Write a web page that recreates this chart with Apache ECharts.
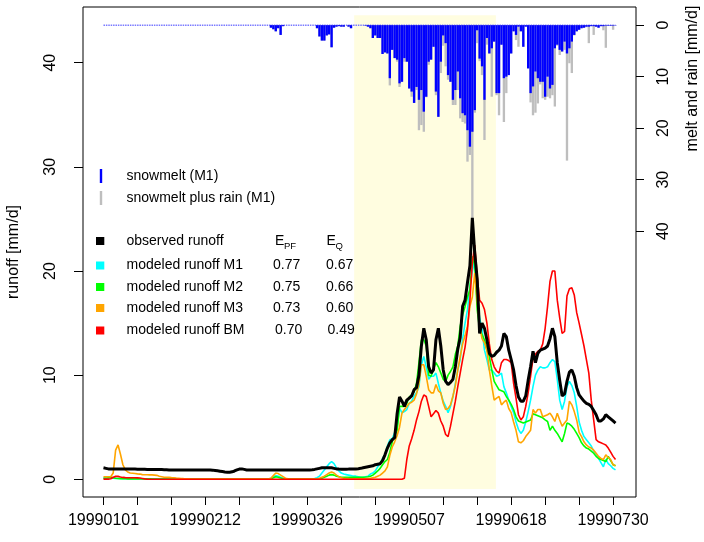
<!DOCTYPE html>
<html><head><meta charset="utf-8">
<script src="https://cdn.jsdelivr.net/npm/echarts@6/dist/echarts.min.js"></script>
<style>html,body{margin:0;padding:0;background:#fff;}#c{width:704px;height:542px;}</style>
</head><body><div id="c"></div>
<script>
// ---- axis / tick data ----
const tickLabels = ["19990101","19990212","19990326","19990507","19990618","19990730"];
const labelDays = [0,42,84,126,168,210];
const tickDays = [0,14,28,42,56,70,84,98,112,126,140,154,168,182,196,210];
const runoffTicks = [0,10,20,30,40];
const meltTicks = [0,10,20,30,40];
const shadeDays = [103.3, 161.7];
const shadeRunoff = [-0.93, 44.55];

// ---- series (one value per day, 19990101 .. 19990731) ----
const observed = [
1.1,1.05,1.0,1.0,1.0,1.0,1.0,1.0,1.0,1.0,
1.0,1.0,0.98,0.98,0.97,0.97,0.96,0.96,0.95,0.95,
0.95,0.94,0.94,0.93,0.93,0.92,0.92,0.9,0.9,0.9,
0.9,0.9,0.9,0.9,0.9,0.9,0.9,0.9,0.9,0.9,
0.9,0.9,0.9,0.9,0.9,0.88,0.85,0.82,0.78,0.74,
0.7,0.68,0.68,0.72,0.8,0.9,0.98,1.0,0.95,0.9,
0.9,0.9,0.9,0.9,0.9,0.9,0.9,0.9,0.9,0.9,
0.9,0.9,0.9,0.9,0.9,0.9,0.9,0.9,0.9,0.9,
0.9,0.9,0.9,0.9,0.9,0.9,0.92,0.95,1.0,1.05,
1.1,1.1,1.12,1.12,1.1,1.05,1.0,0.98,0.97,0.97,
0.97,0.98,1.0,1.0,1.0,1.02,1.05,1.1,1.15,1.2,
1.25,1.3,1.4,1.45,1.5,1.8,2.35,3.0,3.5,3.8,
4.0,6.3,7.9,7.5,7.0,7.6,7.8,8.0,8.6,8.8,
10.0,12.8,14.5,13.4,10.8,10.2,10.5,13.4,14.5,12.8,
10.5,9.4,9.1,9.3,9.6,10.8,12.5,13.6,16.6,17.2,
18.9,20.5,25.1,21.7,19.2,14.0,15.0,14.5,13.4,12.1,
11.8,11.9,12.2,12.4,12.8,14.0,13.7,12.4,11.5,10.5,
9.0,7.9,7.5,7.5,8.0,9.5,10.8,12.3,11.2,12.1,
12.4,12.5,12.6,12.8,13.5,14.5,13.7,11.2,9.5,8.0,
8.2,9.4,10.3,10.5,9.9,8.8,8.1,7.8,7.5,7.3,
7.2,7.0,6.6,6.2,5.6,5.6,5.8,6.2,6.0,5.8,
5.6,5.4];
const modelM1 = [
0.15,0.12,0.1,0.1,0.1,0.08,0.08,0.07,0.06,0.05,
0.05,0.05,0.05,0.05,0.05,0.05,0.05,0.05,0.05,0.05,
0.03,0.03,0.03,0.03,0.03,0.03,0.03,0.03,0.03,0.03,
0.02,0.02,0.02,0.02,0.02,0.02,0.02,0.02,0.02,0.02,
0.02,0.02,0.02,0.02,0.02,0.02,0.02,0.02,0.02,0.02,
0.02,0.02,0.02,0.02,0.02,0.02,0.02,0.02,0.02,0.02,
0.02,0.02,0.02,0.02,0.02,0.02,0.02,0.02,0.02,0.1,
0.25,0.35,0.3,0.2,0.1,0.05,0.03,0.03,0.03,0.03,
0.03,0.03,0.03,0.03,0.03,0.03,0.05,0.08,0.15,0.3,
0.6,0.9,1.2,1.5,1.7,1.5,1.1,0.8,0.6,0.5,
0.45,0.4,0.35,0.3,0.3,0.25,0.2,0.2,0.25,0.3,
0.5,0.6,0.8,1.2,1.5,2.0,2.4,3.2,3.8,3.9,
4.5,5.1,6.8,6.4,6.5,6.7,7.3,7.5,8.0,8.3,
8.9,11.0,11.8,10.8,9.6,9.9,9.9,10.2,9.2,8.3,
7.5,7.0,6.4,7.0,7.9,9.2,10.5,11.5,13.5,15.0,
16.3,18.5,20.0,21.0,17.3,15.5,14.4,12.4,11.5,10.5,
10.5,10.2,9.9,10.0,10.2,8.9,8.3,7.6,7.0,6.4,
5.5,4.8,4.4,4.7,5.5,6.5,7.6,8.9,10.0,10.5,
10.8,10.7,10.7,10.8,11.2,11.5,11.3,9.6,7.6,6.7,
7.5,8.9,9.4,9.0,8.3,7.0,5.5,4.7,4.1,3.8,
3.5,3.2,2.7,2.4,2.0,1.6,1.2,1.9,1.5,1.3,
1.05,0.9];
const modelM2 = [
0.1,0.1,0.15,0.2,0.15,0.1,0.08,0.06,0.05,0.05,
0.04,0.04,0.04,0.04,0.04,0.04,0.04,0.04,0.04,0.04,
0.02,0.02,0.02,0.02,0.02,0.02,0.02,0.02,0.02,0.02,
0.02,0.02,0.02,0.02,0.02,0.02,0.02,0.02,0.02,0.02,
0.02,0.02,0.02,0.02,0.02,0.02,0.02,0.02,0.02,0.02,
0.02,0.02,0.02,0.02,0.02,0.02,0.02,0.02,0.02,0.02,
0.02,0.02,0.02,0.02,0.02,0.02,0.02,0.02,0.02,0.05,
0.15,0.25,0.2,0.12,0.06,0.03,0.02,0.02,0.02,0.02,
0.02,0.02,0.02,0.02,0.02,0.02,0.02,0.02,0.02,0.02,
0.1,0.2,0.3,0.4,0.45,0.4,0.3,0.25,0.2,0.2,
0.2,0.2,0.2,0.2,0.2,0.2,0.2,0.2,0.22,0.25,
0.3,0.4,0.6,0.8,1.05,1.4,1.7,1.9,2.6,3.6,
4.2,4.7,7.0,7.0,7.0,7.3,7.9,8.1,8.4,9.2,
11.2,13.4,13.4,12.8,10.0,9.9,10.6,11.2,10.8,10.2,
9.6,9.4,10.0,10.35,10.8,12.0,12.8,14.7,15.8,16.6,
17.5,18.2,21.4,20.5,16.3,14.4,13.9,13.4,12.4,11.8,
10.5,9.4,9.0,8.6,8.5,8.4,7.95,7.6,7.2,6.7,
6.0,5.6,5.5,5.4,5.5,5.6,5.7,6.3,6.2,6.1,
6.0,5.9,5.7,5.55,4.7,5.1,4.7,4.4,4.0,3.6,
4.4,5.4,5.3,5.1,4.8,4.4,4.0,3.5,3.2,3.0,
2.9,2.7,2.5,2.2,2.0,1.9,1.8,1.7,2.2,1.8,
1.4,1.3];
const modelM3 = [
0.25,0.25,0.25,0.25,0.6,2.8,3.3,2.4,1.4,0.9,
0.7,0.6,0.58,0.55,0.52,0.5,0.45,0.43,0.43,0.42,
0.42,0.4,0.38,0.3,0.25,0.2,0.2,0.18,0.16,0.15,
0.12,0.1,0.08,0.06,0.05,0.04,0.03,0.03,0.02,0.02,
0.02,0.02,0.02,0.02,0.02,0.02,0.02,0.02,0.02,0.02,
0.02,0.02,0.02,0.02,0.02,0.02,0.02,0.02,0.02,0.02,
0.02,0.02,0.02,0.02,0.02,0.02,0.02,0.02,0.02,0.1,
0.35,0.6,0.55,0.4,0.25,0.1,0.05,0.03,0.02,0.02,
0.02,0.02,0.02,0.02,0.02,0.02,0.02,0.02,0.05,0.1,
0.2,0.3,0.45,0.6,0.7,0.6,0.4,0.25,0.15,0.1,
0.08,0.06,0.05,0.05,0.05,0.05,0.05,0.05,0.06,0.08,
0.1,0.15,0.2,0.3,0.4,0.6,0.8,1.2,2.3,3.1,
3.6,4.2,5.0,6.35,6.7,7.0,7.3,7.4,7.6,8.2,
9.2,11.0,11.0,9.9,8.6,8.3,8.3,9.1,8.5,8.3,
7.3,6.7,6.8,7.15,8.0,9.0,10.5,11.8,13.0,13.8,
14.7,16.6,17.5,19.8,17.2,14.7,13.5,13.1,12.4,10.5,
9.0,7.6,7.8,7.95,7.15,7.4,7.6,6.8,6.4,5.5,
4.7,3.6,3.5,3.7,4.1,4.4,4.7,6.7,6.35,6.7,
6.7,6.0,6.1,6.2,6.35,6.0,5.55,6.35,5.7,5.1,
5.4,5.7,7.5,7.15,6.5,5.7,4.5,4.1,3.6,3.3,
3.1,3.0,2.8,2.5,2.2,2.0,1.9,2.35,2.1,1.9,
1.4,1.3];
const modelBM = [
0.02,0.02,0.02,0.05,0.2,0.28,0.28,0.22,0.18,0.16,
0.15,0.15,0.15,0.15,0.14,0.12,0.08,0.04,0.02,0.01,
0,0,0,0,0,0,0,0,0,0,
0,0,0,0,0,0,0,0,0,0,
0,0,0,0,0,0,0,0,0,0,
0,0,0,0,0,0,0,0,0,0,
0,0,0,0,0,0,0,0,0,0,
0,0,0,0,0,0,0,0,0,0,
0,0,0,0,0,0,0,0,0,0,
0,0,0,0,0,0,0,0,0,0,
0,0,0,0,0,0,0,0,0,0,
0,0,0,0,0,0,0,0,0,0,
0,0,0,0,0.1,1.9,3.2,3.9,4.7,5.7,
6.5,7.5,8.1,7.95,7.0,6.0,6.3,6.6,6.35,5.6,
5.1,4.3,4.1,5.1,6.3,7.5,8.9,10.2,11.5,12.7,
14.4,17.2,20.8,22.5,19.5,17.2,16.9,16.3,15.0,13.0,
11.5,10.8,10.4,10.2,11.2,11.5,11.5,11.4,11.2,9.2,
7.8,6.2,5.7,6.0,7.0,8.3,9.9,11.6,12.0,12.3,
12.4,13.0,14.5,16.6,19.0,20.0,20.0,17.2,15.5,14.0,
14.2,17.6,18.3,18.4,17.7,16.0,15.0,13.9,12.8,11.5,
10.2,7.6,5.7,3.8,3.6,3.5,3.4,3.3,3.0,2.6,
2.2,1.9];
const snowmelt = [
0,0,0,0,0,0,0,0,0,0,
0,0,0,0,0,0,0,0,0,0,
0,0,0,0,0,0,0,0,0,0,
0,0,0,0,0,0,0,0,0,0,
0,0,0,0,0,0,0,0,0,0,
0,0,0,0,0,0,0,0,0,0,
0,0,0,0,0,0,0,0,0,0.5,
0.8,1.2,0.6,1.9,0.2,0,0,0,0,0,
0,0,0,0,0,0,0,0,0.6,2.2,
3.0,3.0,2.0,1.8,4.3,0.5,0.3,0.2,0.3,0.3,
0,0.3,0.6,0,0,0,0,0,0.1,0.3,
0.6,2.5,2.0,2.5,2.5,5.6,5.3,5.5,10.3,4.8,
6.4,6.7,11.3,11.0,6.4,7.1,12.3,12.9,15.1,12.0,
14.5,12.6,16.8,13.9,7.1,6.7,4.2,12.9,17.8,7.1,
2.0,3.5,9.7,11.0,14.5,12.6,9.0,14.2,17.1,17.5,
20.4,23.6,20.7,16.5,1.0,6.5,8.0,14.5,2.5,5.5,
4.5,3.2,13.2,13.2,3.8,10.3,10.0,9.7,5.5,1.2,
1.9,0.3,1.2,4.2,0.3,8.4,13.2,11.9,9.0,10.3,
11.0,11.0,13.9,10.0,12.3,11.6,4.5,3.8,4.8,5.1,
3.2,5.5,4.5,3.2,1.9,1.2,0.9,0.6,0.5,0.3,
0.3,0.2,0.2,0.3,0.5,0.2,0.2,0.1,0.1,0.1,
0.1,0.05];
const meltPlusRain = [
0,0,0,0,0,0,0,0,0,0,
0,0,0,0,0,0,0,0,0,0,
0,0,0,0,0,0,0,0,0,0,
0,0,0,0,0,0,0,0,0,0,
0,0,0,0,0,0,0,0,0,0,
0,0,0,0,0,0,0,0,0,0,
0,0,0,0,0,0,0,0,0,0.5,
0.8,1.2,0.6,1.9,0.2,0,0,0,0,0,
0,0,0,0,0,0,0,0,0.6,2.2,
3.0,3.0,2.0,1.8,4.3,0.5,0.3,0.2,0.3,0.3,
0,0.3,0.6,0,0,0,0,0,0.1,0.3,
0.6,2.5,2.0,2.5,2.5,5.6,5.3,5.5,11.7,4.8,
6.4,7.1,12.0,11.0,7.1,7.1,12.3,13.9,15.1,12.6,
20.4,19.4,20.7,14.0,7.7,6.7,4.2,13.6,17.8,9.3,
4.0,8.0,10.6,11.0,15.5,15.5,12.6,18.1,18.8,19.1,
26.5,25.2,37.5,17.0,3.5,7.0,9.7,22.3,3.8,5.5,
13.9,3.2,13.6,17.5,3.8,18.8,13.2,9.7,5.5,1.2,
2.9,4.2,1.2,4.2,0.3,8.4,15.0,17.5,17.0,15.2,
11.5,14.2,14.5,13.9,14.2,13.6,15.8,4.0,5.8,5.2,
4.8,26.3,7.4,9.3,2.0,1.2,0.9,0.6,0.5,0.4,
3.5,0.2,1.9,0.3,0.5,0.2,1.0,4.4,0.1,0.1,
0.9,0.05];

// ---- legend content ----
const barLegend = ["snowmelt (M1)", "snowmelt plus rain (M1)"];
const lineLegend = ["observed runoff","modeled runoff M1","modeled runoff M2","modeled runoff M3","modeled runoff BM"];
const lineColors = ["#000000","#00FFFF","#00FF00","#FFA500","#FF0000"];
const ePF = ["","0.77","0.75","0.73","0.70"];
const eQ  = ["","0.67","0.66","0.60","0.49"];

const FONT = '"Liberation Sans", Arial, Helvetica, sans-serif';
const pairs = arr => arr.map((v,i)=>[i,v]);

const chart = echarts.init(document.getElementById('c'), null, {renderer:'canvas'});

function lineSeries(name, arr, color, width, z){
  return {type:'line', name, data:pairs(arr), yAxisIndex:0, showSymbol:false, symbol:'none',
    lineStyle:{color, width}, itemStyle:{color}, z, silent:true};
}

const graphic = [];
graphic.push({type:'text', x:14, y:252, rotation:Math.PI/2, z:100,
  style:{text:'runoff [mm/d]', font:'16px '+FONT, fill:'#000', align:'center', verticalAlign:'middle'}});
graphic.push({type:'text', x:693, y:78.5, rotation:Math.PI/2, z:100,
  style:{text:'melt and rain [mm/d]', font:'16px '+FONT, fill:'#000', align:'center', verticalAlign:'middle'}});
// bar legend
const barCols = ['#0000FF','#BEBEBE'];
const barY = [176, 198];
barLegend.forEach((t,k)=>{
  graphic.push({type:'line', z:100, shape:{x1:101,y1:barY[k]-7,x2:101,y2:barY[k]+7}, style:{stroke:barCols[k], lineWidth:2.4}});
  graphic.push({type:'text', x:126.5, y:barY[k], z:100, style:{text:t, font:'14px '+FONT, fill:'#000', align:'left', verticalAlign:'middle'}});
});
// line legend
const rowY = [241, 265.5, 287, 308, 330.5];
lineLegend.forEach((t,k)=>{
  graphic.push({type:'rect', z:100, shape:{x:96, y:rowY[k]-4, width:8.3, height:8}, style:{fill:lineColors[k]}});
  graphic.push({type:'text', x:126.5, y:rowY[k], z:100, style:{text:t, font:'14px '+FONT, fill:'#000', align:'left', verticalAlign:'middle'}});
  if (ePF[k]) graphic.push({type:'text', x:(k===4?275:273), y:rowY[k], z:100, style:{text:ePF[k], font:'14px '+FONT, fill:'#000', align:'left', verticalAlign:'middle'}});
  if (eQ[k]) graphic.push({type:'text', x:(k===4?327.5:326), y:rowY[k], z:100, style:{text:eQ[k], font:'14px '+FONT, fill:'#000', align:'left', verticalAlign:'middle'}});
});
graphic.push({type:'text', x:275, y:rowY[0], z:100, style:{text:'E', font:'14px '+FONT, fill:'#000', align:'left', verticalAlign:'middle'}});
graphic.push({type:'text', x:284, y:rowY[0]+5, z:100, style:{text:'PF', font:'9.5px '+FONT, fill:'#000', align:'left', verticalAlign:'middle'}});
graphic.push({type:'text', x:326.5, y:rowY[0], z:100, style:{text:'E', font:'14px '+FONT, fill:'#000', align:'left', verticalAlign:'middle'}});
graphic.push({type:'text', x:335.5, y:rowY[0]+5, z:100, style:{text:'Q', font:'9.5px '+FONT, fill:'#000', align:'left', verticalAlign:'middle'}});

const labelStyle = {fontSize:16, color:'#000', fontFamily:FONT};

const option = {
  animation:false,
  backgroundColor:'#ffffff',
  grid:{left:83, right:68, top:7, bottom:45, show:true, borderColor:'#000', borderWidth:1, backgroundColor:'transparent'},
  xAxis:{type:'value', min:-8.44, max:219.44,
    axisLine:{show:false, onZero:false},
    axisTick:{show:true, customValues:tickDays, length:8, lineStyle:{color:'#000', width:1}},
    axisLabel:Object.assign({customValues:labelDays, margin:16, formatter:v=>tickLabels[labelDays.indexOf(v)]}, labelStyle),
    splitLine:{show:false}},
  yAxis:[
    {type:'value', min:-1.7, max:45.35, position:'left',
     axisLine:{show:false, onZero:false},
     axisTick:{show:true, customValues:runoffTicks, length:9, lineStyle:{color:'#000'}},
     axisLabel:Object.assign({customValues:runoffTicks, rotate:90, margin:24}, labelStyle),
     splitLine:{show:false}},
    {type:'value', min:-3.52, max:91.6, inverse:true, position:'right',
     axisLine:{show:false, onZero:false},
     axisTick:{show:true, customValues:meltTicks, length:8, lineStyle:{color:'#000'}},
     axisLabel:Object.assign({customValues:meltTicks, rotate:90, margin:20}, labelStyle),
     splitLine:{show:false}}
  ],
  series:[
    {type:'line', name:'shade', data:[], yAxisIndex:0, z:0, silent:true,
     markArea:{silent:true, itemStyle:{color:'#FFFDE0'},
       data:[[{coord:[shadeDays[0], shadeRunoff[0]]},{coord:[shadeDays[1], shadeRunoff[1]]}]]}},
    {type:'line', name:'zero', data:[[0,0],[211,0]], yAxisIndex:1, showSymbol:false, symbol:'none', z:2, silent:true,
     lineStyle:{color:'#7a7aff', width:1.5, type:[1.5,0.9]}},
    {type:'bar', name:barLegend[1], data:pairs(meltPlusRain), yAxisIndex:1, barWidth:2.35, barGap:'-100%', z:3, silent:true,
     itemStyle:{color:'#BEBEBE'}},
    {type:'bar', name:barLegend[0], data:pairs(snowmelt), yAxisIndex:1, barWidth:2.35, barGap:'-100%', z:3, silent:true,
     itemStyle:{color:'#0000FF'}},
    lineSeries(lineLegend[1], modelM1, lineColors[1], 1.6, 5),
    lineSeries(lineLegend[2], modelM2, lineColors[2], 1.6, 5),
    lineSeries(lineLegend[3], modelM3, lineColors[3], 1.6, 5),
    lineSeries(lineLegend[4], modelBM, lineColors[4], 1.6, 5),
    lineSeries(lineLegend[0], observed, lineColors[0], 3, 6)
  ],
  graphic
};
chart.setOption(option);
</script></body></html>
